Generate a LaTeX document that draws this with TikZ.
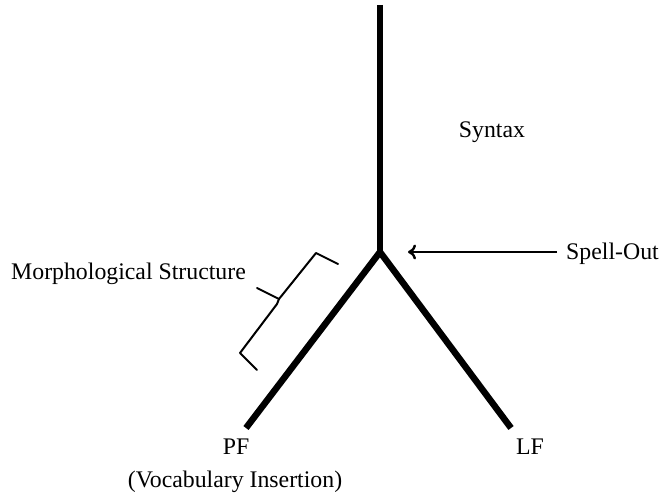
\documentclass[tikz,border=0pt]{standalone}
\usepackage{fontspec}
\setmainfont{Liberation Serif}
\usetikzlibrary{arrows.meta}
\begin{document}
\begin{tikzpicture}[x=1pt,y=-1pt,
  lbl/.style={font=\fontsize{23.8}{27}\selectfont, inner sep=0pt, anchor=base},
  tree/.style={line width=6.5pt, line cap=butt},
  brace/.style={line width=2pt, line join=round, line cap=round},
  pointer/.style={line width=2.4pt, -{To[length=8pt,width=15pt]}}]
\useasboundingbox (0,0) rectangle (660,497);
% tree
\coordinate (top) at (380,5);
\coordinate (mid) at (380,252);
\coordinate (pf) at (246,428);
\coordinate (lf) at (511,428);
\draw[tree] (top) -- (mid);
\draw[tree, line join=miter] (pf) -- (mid) -- (lf);
% labels
\node[lbl] (syntax) at (492,138) {Syntax};
\node[lbl, anchor=base west] (spell) at (566,259) {Spell-Out};
\node[lbl] (pflbl) at (236,454) {PF};
\node[lbl] (voc) at (235,487) {(Vocabulary Insertion)};
\node[lbl] (lflbl) at (530,454) {LF};
\node[lbl, anchor=base west] (morph) at (11,279) {Morphological Structure};
% arrow
\coordinate (arrtip) at (408,252);
\coordinate (arrstart) at (557,252);
\draw[pointer] (arrstart) -- (arrtip);
% brace
\draw[brace] (338,264) -- (316,253) -- (279,299) -- (257,288);
\draw[brace] (279,299) -- (277,304) -- (240,353) -- (257,370);
\end{tikzpicture}
\end{document}
